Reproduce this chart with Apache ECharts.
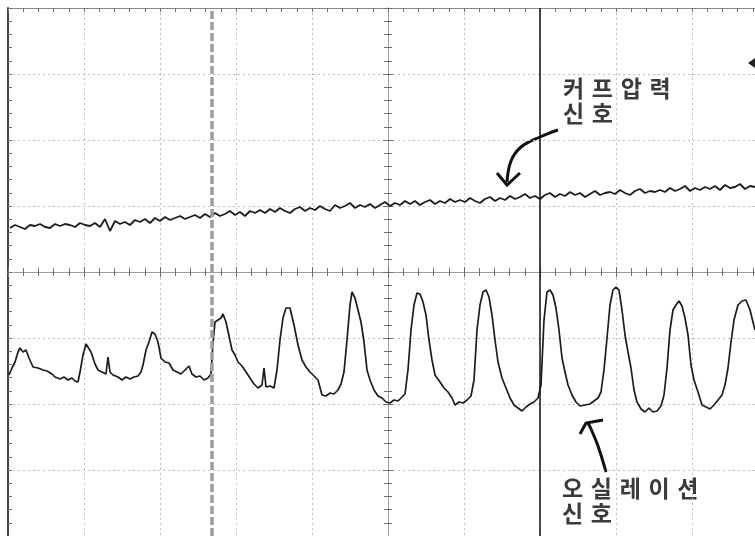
<!DOCTYPE html>
<html>
<head>
<meta charset="utf-8">
<script src="https://cdn.jsdelivr.net/npm/echarts@6.0.0/dist/echarts.min.js"></script>
<style>
  html, body { margin: 0; padding: 0; background: #fff; }
  #chart { width: 755px; height: 536px; }
</style>
</head>
<body>
<div id="chart"></div>
<script>
// screen is 10 x 8 divisions, values in raw units (76 per x div, 66 per y div), 0 at centre
const X_MIN = -380, X_MAX = 380, X_DIV = 76
const Y_MIN = -264, Y_MAX = 264, Y_DIV = 66

// cuff pressure trace (upper), sampled every 5 units starting at -378
const cuffT0 = -378
const cuffDt = 5
const cuffV = [
  44,47,45,43,47,46,48,45,44,48,
  46,48,47,45,49,47,46,49,45,53,
  41,51,48,50,47,52,50,53,49,54,
  51,55,52,54,56,53,55,57,54,58,
  55,59,56,58,61,57,60,56,61,59,
  62,59,63,60,64,61,59,63,65,61,
  64,62,66,63,61,67,64,66,69,64,
  67,65,68,64,67,70,66,69,67,71,
  68,71,67,70,72,68,71,69,73,70,
  72,70,74,71,69,73,75,71,74,72,
  76,73,75,78,74,76,73,77,79,75,
  78,76,80,77,79,75,78,81,77,79,
  80,78,82,79,77,81,83,79,81,80,
  82,80,84,81,83,86,81,84,82,85,
  83,86,82,87,84,85,88,83,86,85
]

// oscillation trace (lower)
const oscT = [
  -379,-376,-373,-370,-368,-365,-362,-359,-355,-350,-345,-341,-336,-333,-328,-324,-320,-316,-313,-310,
  -308,-305,-302,-300,-297,-293,-290,-286,-282,-280,-278,-275,-270,-266,-262,-258,-254,-250,-247,-245,
  -242,-239,-236,-233,-230,-227,-223,-219,-215,-211,-207,-203,-199,-196,-192,-188,-184,-180,-177,-175,
  -173,-170,-167,-165,-162,-159,-156,-153,-150,-146,-142,-138,-134,-130,-126,-124,-122,-118,-114,-111,
  -108,-105,-102,-98,-94,-90,-86,-82,-78,-74,-70,-66,-62,-58,-54,-50,-47,-44,-41,-38,
  -36,-33,-30,-27,-24,-21,-18,-14,-10,-6,-2,2,6,10,14,17,20,23,26,29,
  32,35,38,41,44,47,52,56,60,64,67,71,75,79,83,86,89,92,95,98,
  101,104,107,110,114,118,122,126,130,134,138,142,146,150,153,156,159,162,165,168,
  171,174,177,180,184,188,192,197,202,206,210,213,216,219,222,225,228,231,234,237,
  240,243,246,249,253,257,261,265,269,273,276,279,282,285,288,291,294,297,300,303,
  306,310,314,318,322,326,330,334,337,340,343,346,350,354,358,362,365,367
]
const oscV = [
  -103,-96,-90,-80,-76,-80,-78,-86,-95,-96,-98,-99,-102,-105,-107,-105,-108,-106,-109,-110,
  -100,-83,-72,-71,-80,-92,-98,-100,-102,-85,-100,-103,-105,-108,-105,-107,-105,-104,-100,-93,
  -78,-70,-60,-62,-70,-86,-90,-91,-98,-100,-102,-98,-94,-102,-105,-104,-108,-106,-102,-71,
  -50,-48,-46,-42,-50,-64,-78,-83,-90,-94,-100,-106,-112,-116,-113,-96,-115,-114,-116,-98,
  -68,-46,-36,-36,-53,-73,-88,-95,-100,-104,-108,-123,-124,-121,-122,-118,-112,-100,-68,-33,
  -20,-26,-38,-50,-70,-98,-108,-118,-124,-126,-130,-131,-128,-129,-125,-122,-98,-58,-33,-21,
  -22,-30,-43,-68,-88,-103,-110,-116,-120,-126,-133,-130,-131,-128,-124,-108,-58,-33,-20,-18,
  -25,-43,-68,-90,-106,-116,-126,-133,-136,-139,-135,-132,-130,-126,-113,-48,-20,-18,-23,-36,
  -58,-86,-100,-113,-123,-130,-134,-133,-132,-129,-126,-120,-98,-66,-33,-18,-15,-18,-38,-63,
  -80,-96,-118,-130,-137,-140,-136,-140,-139,-134,-123,-96,-58,-38,-33,-29,-34,-46,-63,-93,
  -108,-120,-133,-135,-137,-133,-128,-123,-113,-96,-70,-48,-33,-29,-28,-38,-50,-58
]

// cursors
const cursorDashed = -176
const cursorSolid = 152

const cuffData = cuffV.map((v, i) => [cuffT0 + i * cuffDt, v])
const oscData = oscT.map((t, i) => [t, oscV[i]])

const dotted = { show: true, lineStyle: { color: '#bdbdbd', width: 1, type: [2, 3] } }
const tickStyle = { color: '#6e6e6e', width: 1 }

const xBase = { type: 'value', min: X_MIN, max: X_MAX, interval: X_DIV, axisLabel: { show: false }, splitLine: { show: false } }
const yBase = { type: 'value', min: Y_MIN, max: Y_MAX, interval: Y_DIV, axisLabel: { show: false }, splitLine: { show: false } }

const centre = (extra) => ({
  axisLine: { onZero: true, onZeroAxisIndex: 0, lineStyle: { color: '#9c9c9c', width: 1 } },
  axisTick: { show: true, length: 5, lineStyle: tickStyle },
  minorTick: { show: true, splitNumber: 5, length: 4, lineStyle: tickStyle },
  ...extra
})
const edge = (color, width) => ({
  axisLine: { onZero: false, lineStyle: { color: color, width: width } },
  axisTick: { show: true, inside: true, length: 4, lineStyle: tickStyle },
  minorTick: { show: true, splitNumber: 5, length: 4, lineStyle: tickStyle }
})

const labelFont = 'bold 23px "Noto Sans CJK KR"'
const sp = '\u2004'

const chart = echarts.init(document.getElementById('chart'), null, { renderer: 'canvas' })
chart.setOption({
  backgroundColor: '#ffffff',
  animation: false,
  grid: { left: 8, top: 8, right: -13, bottom: 0, outerBoundsMode: 'none' },
  xAxis: [
    { ...xBase, position: 'bottom', ...centre({ splitLine: dotted }) },
    { ...xBase, position: 'top', ...centre({}) },
    { ...xBase, position: 'top', ...edge('#8a8a8a', 1) }
  ],
  yAxis: [
    { ...yBase, position: 'left', ...centre({ splitLine: dotted }) },
    { ...yBase, position: 'right', ...centre({}) },
    { ...yBase, position: 'left', ...edge('#444', 2) }
  ],
  series: [
    {
      name: '커프압력 신호', type: 'line', data: cuffData, showSymbol: false, silent: true,
      lineStyle: { color: '#1c1c1c', width: 1.8 }
    },
    {
      name: '오실레이션 신호', type: 'line', data: oscData, showSymbol: false, silent: true,
      lineStyle: { color: '#1c1c1c', width: 1.7 },
      markLine: {
        silent: true, symbol: 'none', label: { show: false },
        data: [
          { xAxis: cursorDashed, lineStyle: { color: '#9d9d9d', width: 3.5, type: [8, 3] } },
          { xAxis: cursorSolid, lineStyle: { color: '#111', width: 1.5, type: 'solid' } }
        ]
      }
    }
  ],
  graphic: [
    { type: 'text', x: 563, y: 77, style: { text: ['커', '프', '압', '력'].join(sp), font: labelFont, fill: '#3a3a3a', verticalAlign: 'top' } },
    { type: 'text', x: 563, y: 102, style: { text: ['신', '호'].join(sp), font: labelFont, fill: '#3a3a3a', verticalAlign: 'top' } },
    { type: 'text', x: 562, y: 477, style: { text: ['오', '실', '레', '이', '션'].join(sp), font: labelFont, fill: '#3a3a3a', verticalAlign: 'top' } },
    { type: 'text', x: 562, y: 502, style: { text: ['신', '호'].join(sp), font: labelFont, fill: '#3a3a3a', verticalAlign: 'top' } },
    // hand drawn arrows
    { type: 'polyline', shape: { points: [[558, 130], [540, 137], [521, 147], [511, 161], [507, 182]], smooth: 0.4 }, style: { stroke: '#111', lineWidth: 3, fill: null } },
    { type: 'polyline', shape: { points: [[497, 173], [507, 185], [520, 173]] }, style: { stroke: '#111', lineWidth: 3, fill: null } },
    { type: 'polyline', shape: { points: [[606, 472], [598, 446], [591, 429], [588, 423]], smooth: 0.4 }, style: { stroke: '#111', lineWidth: 3, fill: null } },
    { type: 'polyline', shape: { points: [[580, 434], [586, 423], [603, 420]] }, style: { stroke: '#111', lineWidth: 3, fill: null } },
    // trigger marker at the right edge
    { type: 'polygon', shape: { points: [[748, 63], [755, 58], [755, 68]] }, style: { fill: '#222' } }
  ]
})
</script>
</body>
</html>
